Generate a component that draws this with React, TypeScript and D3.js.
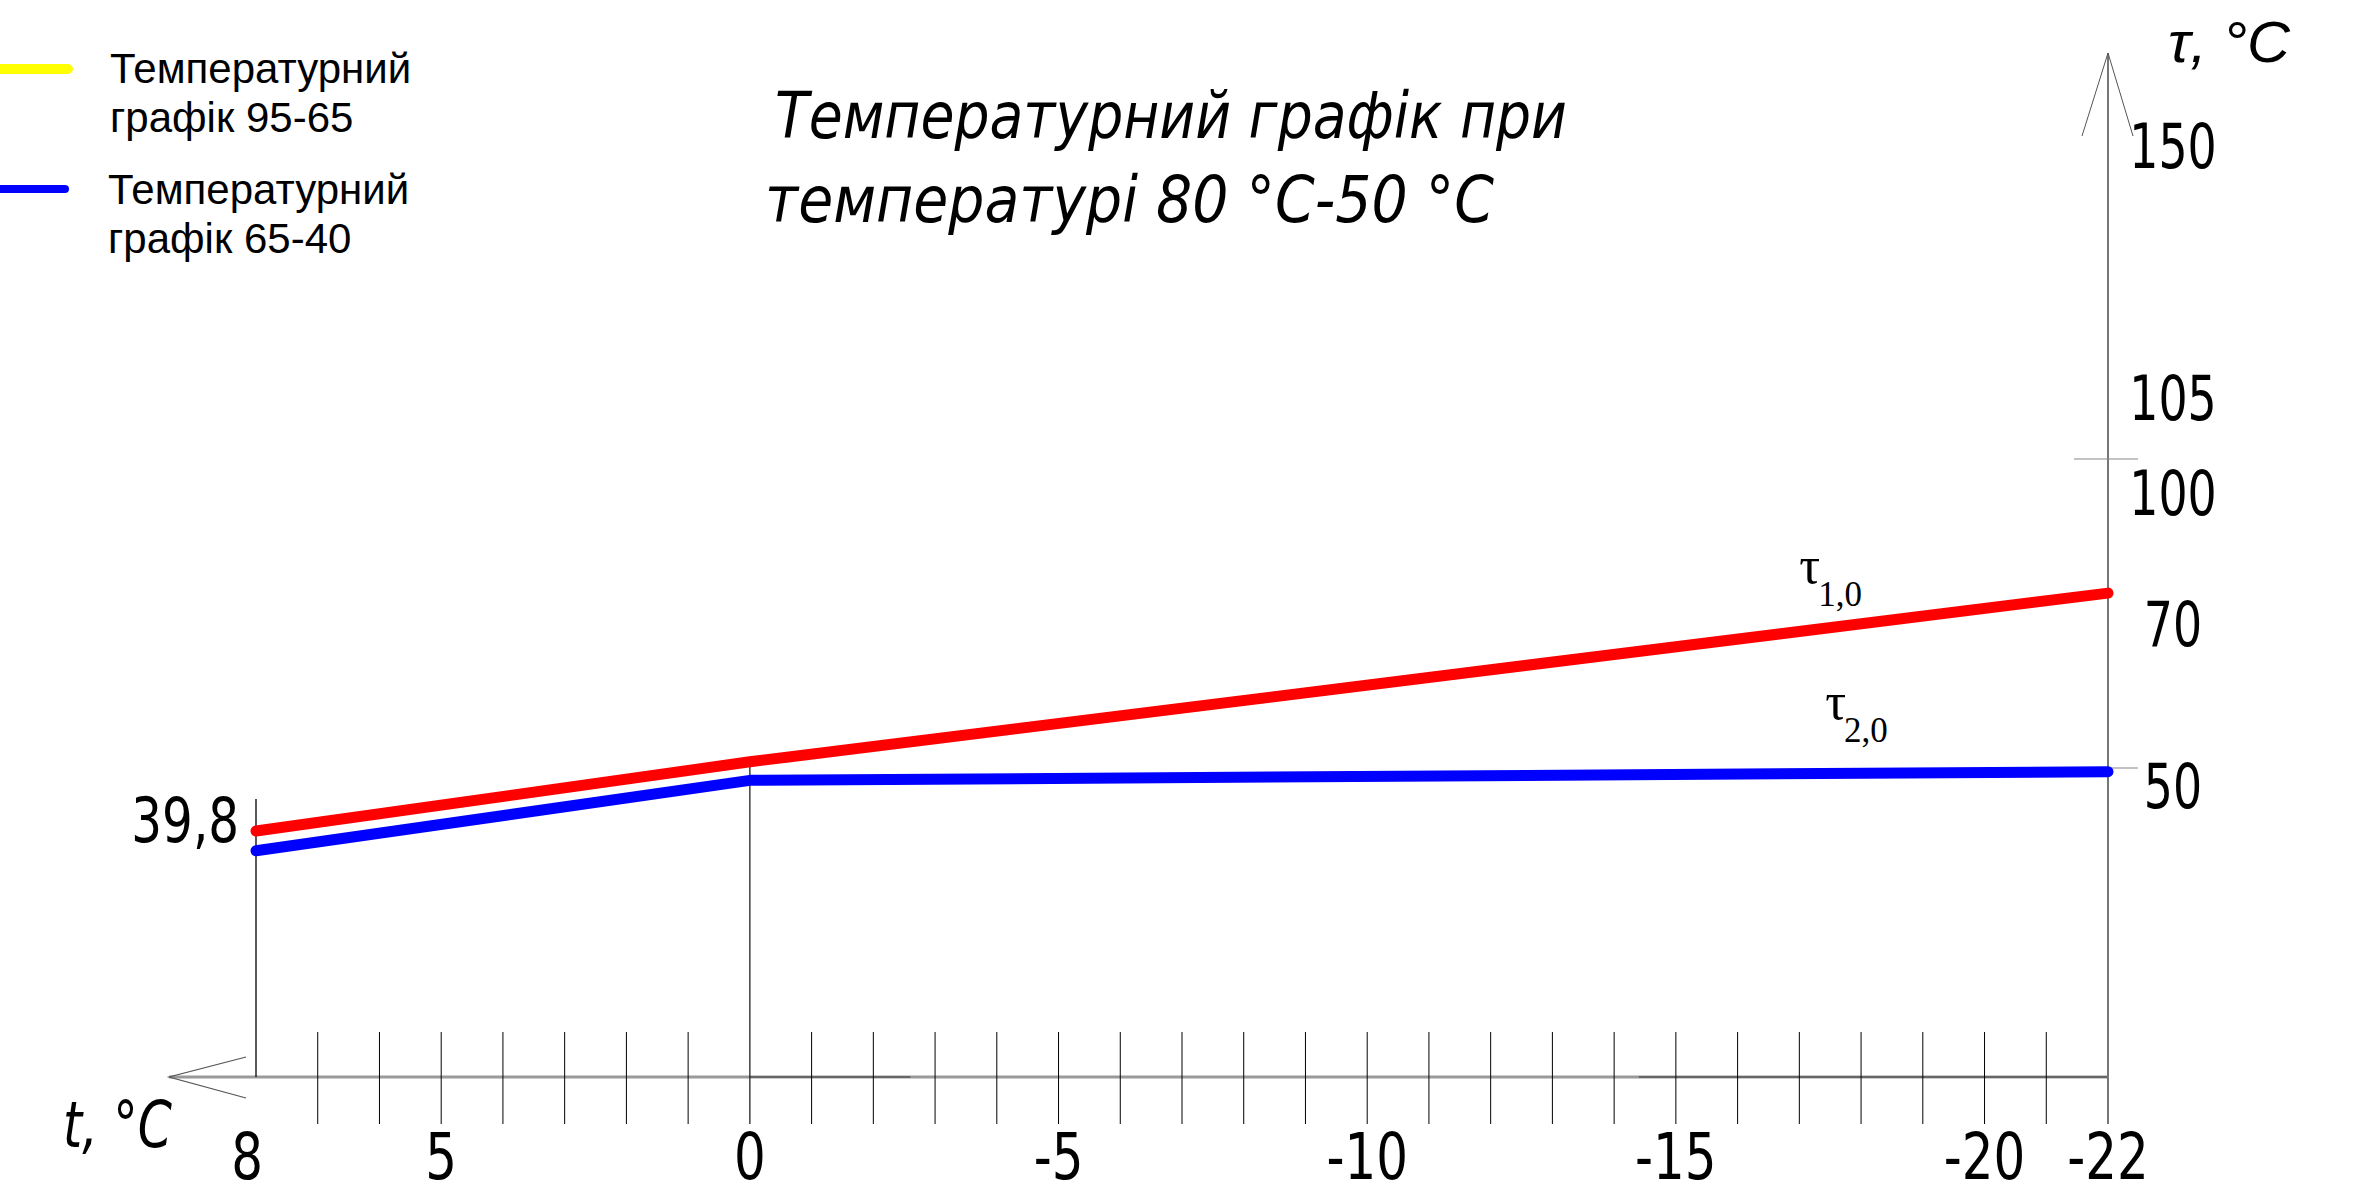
import React from 'react';
import * as d3 from 'd3';

// outdoor temperature, °C (break points of the graph)
const outdoorTemps = [8, 0, -22];
// supply water temperature τ1,0
const supplyTemps = [39.8, 51, 78.3];
// return water temperature τ2,0
const returnTemps = [36.6, 48, 49.4];

const xTickLabels = ['8', '5', '0', '-5', '-10', '-15', '-20', '-22'];
const yTickLabels = ['150', '105', '100', '70', '50'];
const yTickMarks = [100, 50];

const legendItems = [
  { lines: ['Температурний', 'графік 95-65'], color: '#ffff00' },
  { lines: ['Температурний', 'графік 65-40'], color: '#0000ff' },
];

const W = 2360;
const H = 1194;

const CAD = '"DejaVu Sans", sans-serif';
const SERIF = '"Liberation Serif", "Times New Roman", serif';

export default function App() {
  const x = d3.scaleLinear().domain([8, -22]).range([256, 2108]);
  const y = d3.scaleLinear().domain([0, 150]).range([1077, 150]);

  const pts = (vals: number[]) => outdoorTemps.map((t, i) => [t, vals[i]] as [number, number]);
  const line = d3.line<[number, number]>().x(d => x(d[0])).y(d => y(d[1]));

  const axisY = y(0);
  const axisX = x(-22);
  const minorTicks = d3.range(7, -22, -1).filter(t => t !== 0);

  // nudge labels off their tick values the way the drawing has them
  const yLabelShift: Record<string, number> = { '150': 18, '105': -8, '100': 56, '70': 2, '50': 40 };

  return (
    <svg width={W} height={H} style={{ position: 'absolute', left: 0, top: 0, background: '#fff' }}>
      {/* legend */}
      {legendItems.map((it, i) => (
        <g key={i}>
          <line x1={-10} x2={i === 0 ? 68 : 65} y1={69 + i * 120} y2={69 + i * 120}
            stroke={it.color} strokeWidth={i === 0 ? 10 : 8} strokeLinecap="round" />
          {it.lines.map((s, j) => (
            <text key={j} x={110 - i * 2} y={83 + i * 121 + j * 49}
              fontFamily='"Liberation Sans", Arial, sans-serif' fontSize={42} fill="#000">{s}</text>
          ))}
        </g>
      ))}

      {/* title */}
      <text x={775} y={138} fontFamily={CAD} fontStyle="italic" fontSize={64}
        textLength={792} lengthAdjust="spacingAndGlyphs">Температурний графік при</text>
      <text x={765} y={222} fontFamily={CAD} fontStyle="italic" fontSize={64}
        textLength={729} lengthAdjust="spacingAndGlyphs">температурі 80 °C-50 °C</text>

      {/* x axis */}
      <line x1={x(8) - 87} x2={axisX} y1={axisY} y2={axisY} stroke="#9a9a9a" strokeWidth={3} />
      <line x1={x(0)} x2={x(-2.6)} y1={axisY} y2={axisY} stroke="#555" strokeWidth={1.5} />
      <line x1={x(-14.4)} x2={axisX} y1={axisY} y2={axisY} stroke="#555" strokeWidth={1.5} />
      <polyline points={`${x(8) - 10},${axisY - 20} ${x(8) - 87},${axisY} ${x(8) - 10},${axisY + 21}`}
        fill="none" stroke="#555" strokeWidth={1.2} />
      {minorTicks.map(t => (
        <line key={t} x1={x(t)} x2={x(t)} y1={axisY - 45} y2={axisY + 47} stroke="#000" strokeWidth={1} />
      ))}
      <line x1={x(0)} x2={x(0)} y1={y(supplyTemps[1])} y2={axisY + 47} stroke="#222" strokeWidth={1.3} />
      <line x1={x(8)} x2={x(8)} y1={y(supplyTemps[0]) - 32} y2={axisY} stroke="#000" strokeWidth={1.3} />

      {/* y axis */}
      <line x1={axisX} x2={axisX} y1={53} y2={axisY + 47} stroke="#777" strokeWidth={2} />
      <polyline points={`${axisX - 26},136 ${axisX},53 ${axisX + 25},136`} fill="none" stroke="#555" strokeWidth={1} />
      {yTickMarks.map(v => (
        <line key={v} x1={axisX - 34} x2={axisX + 30} y1={y(v)} y2={y(v)} stroke="#888" strokeWidth={1.2} />
      ))}

      {/* tick labels */}
      {xTickLabels.map(s => (
        <text key={s} transform={`translate(${x(+s) - (s === '8' ? 9 : 0)},1179) scale(0.78,1)`}
          textAnchor="middle" fontFamily={CAD} fontSize={64}>{s}</text>
      ))}
      {yTickLabels.map(s => (
        <text key={s} transform={`translate(${axisX + 65},${y(+s) + yLabelShift[s]}) scale(0.74,1)`}
          textAnchor="middle" fontFamily={CAD} fontSize={62}>{s}</text>
      ))}
      <text transform={`translate(${x(8) - 17},842) scale(0.78,1)`} textAnchor="end"
        fontFamily={CAD} fontSize={62}>39,8</text>

      {/* axis titles */}
      <text x={63} y={1147} fontFamily={CAD} fontStyle="italic" fontSize={64}
        textLength={109} lengthAdjust="spacingAndGlyphs">t, °C</text>
      <text x={2168} y={62} fontFamily='"Liberation Sans", Arial, sans-serif' fontStyle="italic" fontSize={58}
        textLength={122} lengthAdjust="spacingAndGlyphs">τ, °C</text>

      {/* graph lines */}
      <path d={line(pts(supplyTemps)) ?? ''} fill="none" stroke="#ff0000" strokeWidth={11}
        strokeLinecap="round" strokeLinejoin="round" />
      <path d={line(pts(returnTemps)) ?? ''} fill="none" stroke="#0000ff" strokeWidth={11}
        strokeLinecap="round" strokeLinejoin="round" />

      {/* line labels */}
      <text x={x(-17)} y={y(80)} fontFamily={SERIF} fontSize={52}>
        τ<tspan fontSize={35} dx={-2} dy={23}>1,0</tspan>
      </text>
      <text x={x(-17.5) - 5} y={y(58)} fontFamily={SERIF} fontSize={52}>
        τ<tspan fontSize={35} dx={-2} dy={23}>2,0</tspan>
      </text>
    </svg>
  );
}
